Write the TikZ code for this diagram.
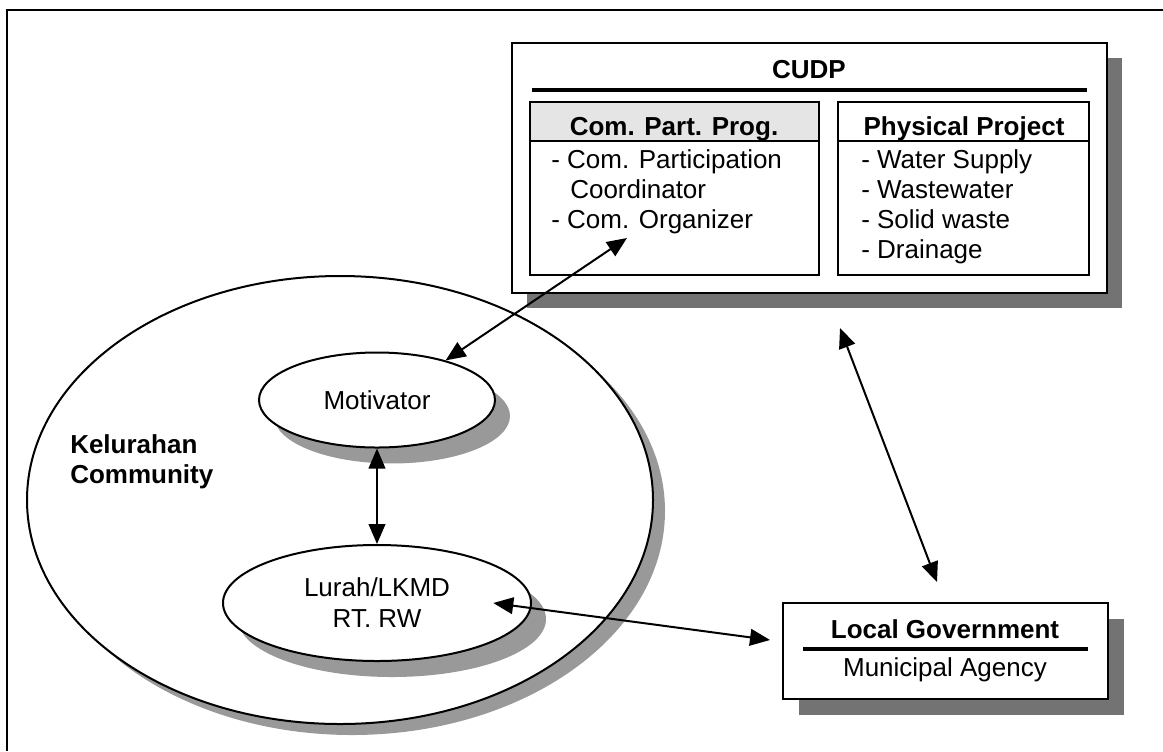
\documentclass[tikz,border=0pt]{standalone}
\usepackage{fontspec}
\setmainfont{Liberation Sans}
\usetikzlibrary{shapes.geometric,arrows.meta,calc}
\begin{document}
\begin{tikzpicture}[x=0.75pt,y=-0.75pt,
  txt/.style={font=\fontsize{19.5}{23.25}\selectfont, inner sep=0pt},
  hd/.style={font=\fontsize{19.5}{22.5}\selectfont\bfseries, inner sep=0pt},
  panel/.style={draw, line width=1.6pt, fill=white, inner sep=0pt},
  subpanel/.style={draw, line width=1.6pt, inner sep=0pt},
  boxshadow/.style={fill=black!55},
  ovalshadow/.style={fill=black!40},
  oval/.style={ellipse, draw, line width=1.5pt, fill=white, inner sep=0pt,
               font=\fontsize{19.5}{23.25}\selectfont, align=center},
  link/.style={line width=1.5pt,
               {Triangle[length=15pt,width=12.5pt]}-{Triangle[length=15pt,width=12.5pt]}},
  rule/.style={line width=2.4pt},
  divider/.style={line width=1.6pt}
]
\useasboundingbox (0,0) rectangle (1163,751);

% page frame (top and left edges)
\draw[line width=1.5pt] (7,751) -- (7,10) -- (1163,10);

% ---------- community ellipses ----------
\fill[ovalshadow] (352,511) ellipse [x radius=234.75pt, y radius=168pt];
\node[oval, minimum width=469.5pt, minimum height=336pt] (kel) at (340,500) {};
\node[hd, anchor=base west, align=left] (kelLabel) at (70,483) {Kelurahan\\Community};

\fill[ovalshadow] (392,416) ellipse [x radius=88.5pt, y radius=35.6pt];
\node[oval, minimum width=177pt, minimum height=71.25pt] (mot) at (377,400) {Motivator};

\fill[ovalshadow] (392,619) ellipse [x radius=115.5pt, y radius=43.5pt];
\node[oval, minimum width=231pt, minimum height=87pt] (lur) at (377,603) {Lurah/LKMD\\RT. RW};

% ---------- CUDP ----------
\fill[boxshadow] (527,58) rectangle (1122,308);
\node[panel, minimum width=446.25pt, minimum height=187.5pt] (cudp) at (809.5,168) {};
\node[hd] (cudpT) at (809,70) {CUDP};
\draw[rule] (532,90) -- (1087,90);

\fill[black!10] (530,102) rectangle (819,141);
\node[subpanel, minimum width=216.75pt, minimum height=129.75pt] (comp) at (674.5,188.5) {};
\node[subpanel, minimum width=188.25pt, minimum height=129.75pt] (phys) at (963.5,188.5) {};
\coordinate (hdl) at (0,141);
\draw[divider] (comp.west |- hdl) -- (comp.east |- hdl);
\draw[divider] (phys.west |- hdl) -- (phys.east |- hdl);

\node[hd, anchor=base] (compT) at (674,135) {Com. Part. Prog.};
\node[hd, anchor=base] (physT) at (964,135) {Physical Project};

\node[txt, anchor=base west] (c1) at (551,168) {- Com. Participation};
\node[txt, anchor=base west] (c2) at (570,198) {Coordinator};
\node[txt, anchor=base west] (c3) at (551,228) {- Com. Organizer};

\node[txt, anchor=base west] (p1) at (861,168) {- Water Supply};
\node[txt, anchor=base west] (p2) at (861,198) {- Wastewater};
\node[txt, anchor=base west] (p3) at (861,228) {- Solid waste};
\node[txt, anchor=base west] (p4) at (861,258) {- Drainage};

% ---------- Local Government ----------
\fill[boxshadow] (799,619) rectangle (1124,715);
\node[panel, minimum width=243.75pt, minimum height=72pt] (gov) at (945.5,651) {};
\node[hd, anchor=base] (govT) at (945,638) {Local Government};
\draw[rule] (803,649) -- (1088,649);
\node[txt, anchor=base] (govS) at (945,676) {Municipal Agency};

% ---------- connectors ----------
\coordinate (comTip) at (627,238);
\draw[link] (mot.30) -- (comTip);

\draw[link] (mot.south) -- (lur.north);

\coordinate (lurTip) at ($(lur.center)!0.75!(lur.east)$);
\coordinate (govTip) at (770,640);
\draw[link] (lurTip) -- (govTip);

\coordinate (cudpTip) at (840,328);
\coordinate (govTop) at (937,582);
\draw[link] (cudpTip) -- (govTop);
\end{tikzpicture}
\end{document}
